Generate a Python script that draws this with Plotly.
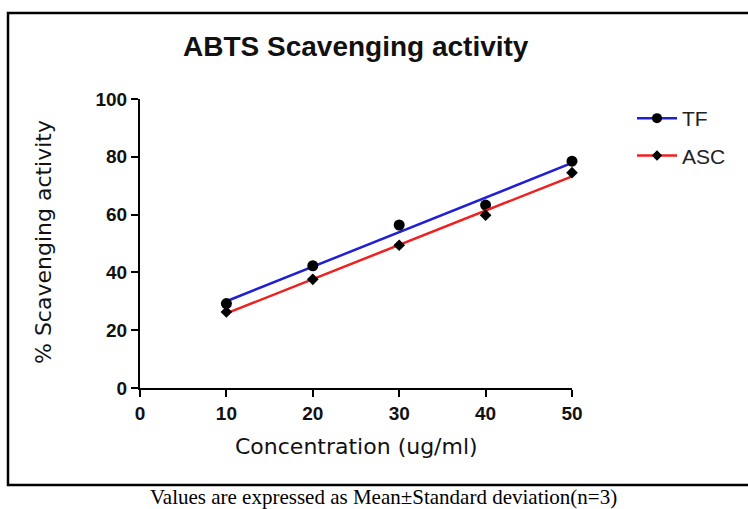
import numpy as np
import plotly.graph_objects as go

concentration = [10, 20, 30, 40, 50]
tf_values = [29.2, 42.3, 56.4, 63.3, 78.5]
asc_values = [26.3, 37.6, 49.4, 59.8, 74.5]
series_names = ["TF", "ASC"]
line_colors = ["#1f1fd6", "#ee2020"]
marker_symbols = ["circle", "diamond"]
marker_sizes = [11, 9]
x_ticks = [0, 10, 20, 30, 40, 50]
y_ticks = [0, 20, 40, 60, 80, 100]

title_text = "ABTS Scavenging activity"
x_title = "Concentration (ug/ml)"
y_title = "% Scavenging activity"
caption = "Values are expressed as Mean\u00b1Standard deviation(n=3)"

W, H = 748, 509
L, R, T, B = 140, 176, 99, 121
PW, PH = W - L - R, H - T - B


def px_x(p):
    return (p - L) / PW


def px_y(p):
    return (H - B - p) / PH


fig = go.Figure()
xs = np.array(concentration, dtype=float)
for name, vals, col, sym, sz in zip(series_names, [tf_values, asc_values], line_colors, marker_symbols, marker_sizes):
    slope, intercept = np.polyfit(xs, np.array(vals), 1)
    fx = [xs.min(), xs.max()]
    fy = [slope * v + intercept for v in fx]
    fig.add_trace(go.Scatter(x=fx, y=fy, mode="lines", line=dict(color=col, width=2.5),
                             showlegend=False, cliponaxis=False, hoverinfo="skip"))
    fig.add_trace(go.Scatter(x=concentration, y=vals, mode="markers",
                             marker=dict(symbol=sym, size=sz, color="black"),
                             showlegend=False, cliponaxis=False, name=name))
    fig.add_trace(go.Scatter(x=[None], y=[None], mode="lines+markers", name=name,
                             legendgroup=name,
                             line=dict(color=col, width=2.5),
                             marker=dict(symbol=sym, size=sz - 1, color="black")))

fig.update_layout(
    width=W, height=H,
    margin=dict(l=L, r=R, t=T, b=B),
    paper_bgcolor="white", plot_bgcolor="white",
    showlegend=True,
    legend=dict(x=px_x(632), y=px_y(98), xanchor="left", yanchor="top",
                font=dict(family="Liberation Sans, Arial", size=21, color="#222"),
                bgcolor="rgba(0,0,0,0)", itemwidth=40, tracegroupgap=7,
                traceorder="grouped", itemsizing="trace"),
    xaxis=dict(range=[0, 50], tickvals=x_ticks, showline=True, linewidth=2, linecolor="black",
               ticks="outside", ticklen=7, tickwidth=2, tickcolor="black", showgrid=False,
               zeroline=False,
               tickfont=dict(family="Liberation Sans, Arial", size=19, color="#111", weight="bold")),
    yaxis=dict(range=[0, 100], tickvals=y_ticks, showline=True, linewidth=2, linecolor="black",
               ticks="outside", ticklen=7, tickwidth=2, tickcolor="black", showgrid=False,
               zeroline=False,
               tickfont=dict(family="Liberation Sans, Arial", size=19, color="#111", weight="bold")),
    shapes=[dict(type="rect", xref="paper", yref="paper",
                 x0=px_x(8), x1=px_x(770), y0=px_y(485), y1=px_y(13),
                 line=dict(color="black", width=2.5), fillcolor="rgba(0,0,0,0)")],
    annotations=[
        dict(text="<b>" + title_text + "</b>", xref="paper", yref="paper",
             x=px_x(356), y=px_y(47), xanchor="center", yanchor="middle", showarrow=False,
             font=dict(family="Liberation Sans, Arial", size=28, color="#111")),
        dict(text=x_title, xref="paper", yref="paper",
             x=px_x(356), y=px_y(446), xanchor="center", yanchor="middle", showarrow=False,
             font=dict(family="DejaVu Sans", size=22, color="#111")),
        dict(text=y_title, xref="paper", yref="paper", textangle=-90,
             x=px_x(43), y=px_y(242), xanchor="center", yanchor="middle", showarrow=False,
             font=dict(family="DejaVu Sans", size=22, color="#111")),
        dict(text=caption, xref="paper", yref="paper",
             x=px_x(383), y=px_y(497), xanchor="center", yanchor="middle", showarrow=False,
             font=dict(family="Liberation Serif, Times New Roman", size=21, color="black")),
    ],
)

fig.write_html("out.html")
